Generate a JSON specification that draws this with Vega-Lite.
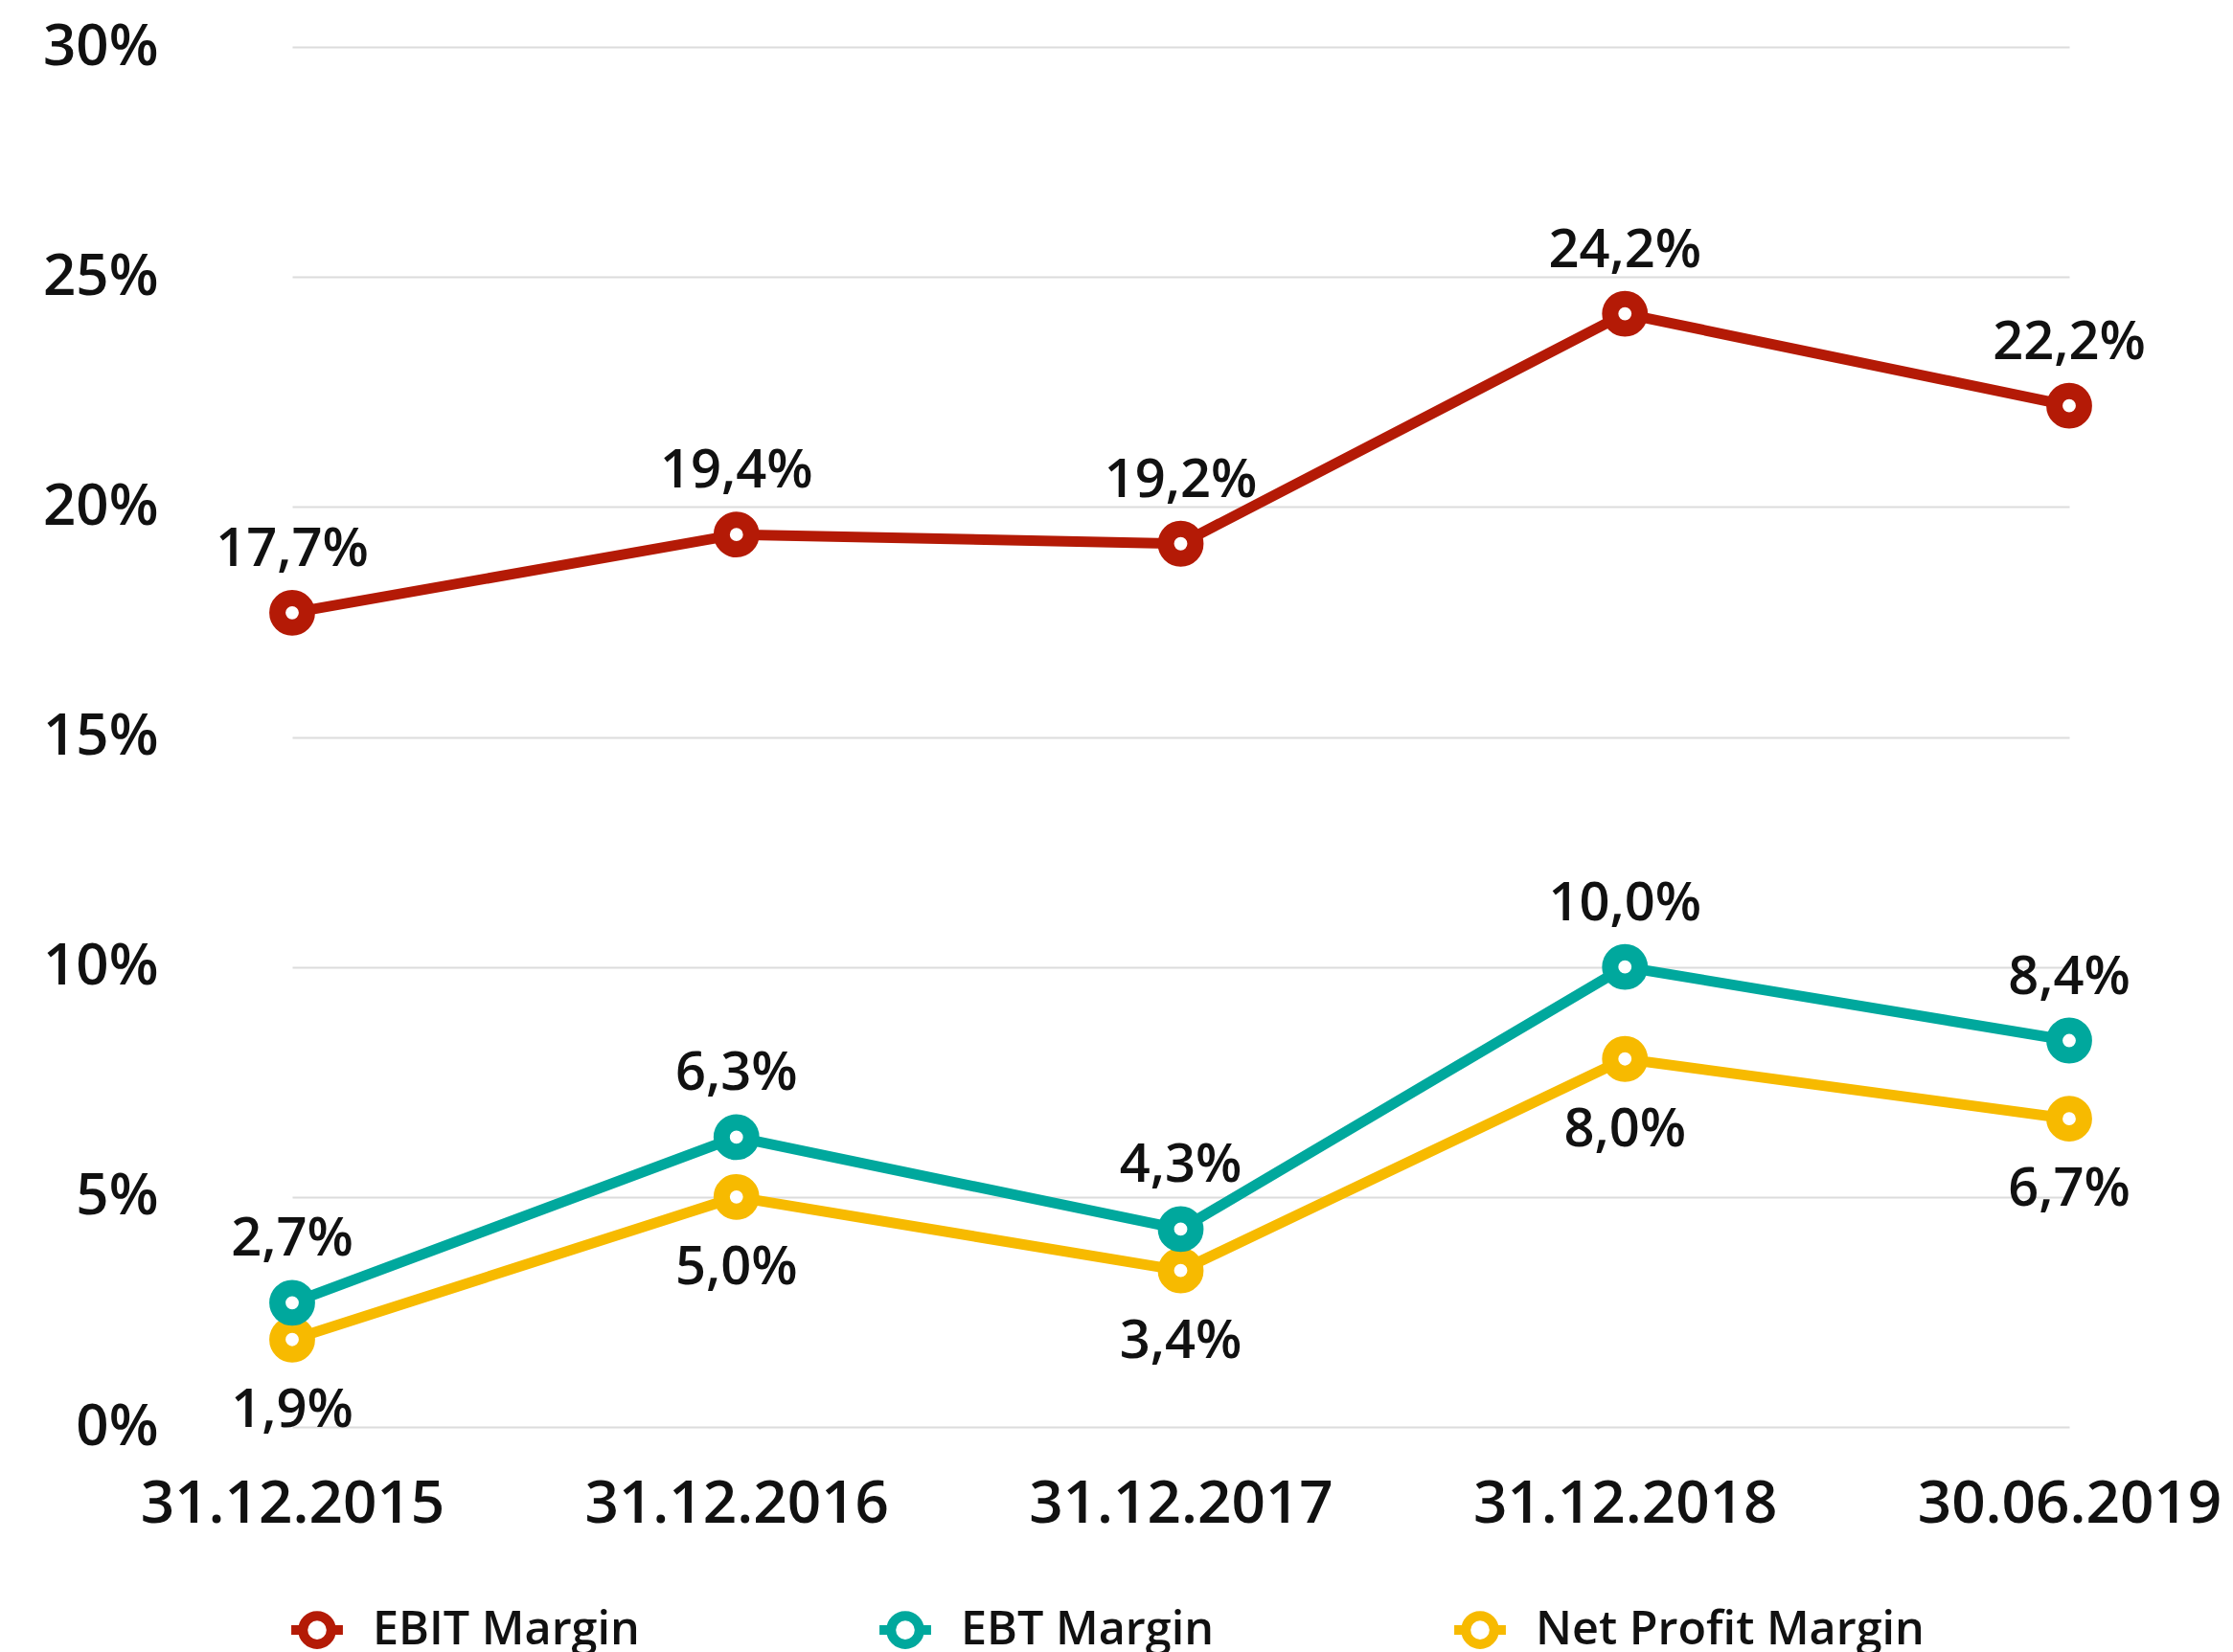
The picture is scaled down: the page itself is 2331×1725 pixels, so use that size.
{
  "$schema": "https://vega.github.io/schema/vega-lite/v6.json",
  "autosize": "none",
  "width": 1855,
  "height": 1441,
  "padding": {"left": 305, "top": 49, "right": 171, "bottom": 235},
  "background": "white",
  "config": {
    "locale": {"number": {"decimal": ",", "thousands": ".", "grouping": [3], "currency": ["", " €"]}},
    "view": {"stroke": null},
    "font": "Open Sans",
    "axis": {"labelFont": "Open Sans", "labelFontWeight": 600, "labelColor": "#111111"}
  },
  "data": {
    "values": [
      {"date": "31.12.2015", "series": "Net Profit Margin", "value": 0.019},
      {"date": "31.12.2016", "series": "Net Profit Margin", "value": 0.050},
      {"date": "31.12.2017", "series": "Net Profit Margin", "value": 0.034},
      {"date": "31.12.2018", "series": "Net Profit Margin", "value": 0.080},
      {"date": "30.06.2019", "series": "Net Profit Margin", "value": 0.067},
      {"date": "31.12.2015", "series": "EBT Margin", "value": 0.027},
      {"date": "31.12.2016", "series": "EBT Margin", "value": 0.063},
      {"date": "31.12.2017", "series": "EBT Margin", "value": 0.043},
      {"date": "31.12.2018", "series": "EBT Margin", "value": 0.100},
      {"date": "30.06.2019", "series": "EBT Margin", "value": 0.084},
      {"date": "31.12.2015", "series": "EBIT Margin", "value": 0.177},
      {"date": "31.12.2016", "series": "EBIT Margin", "value": 0.194},
      {"date": "31.12.2017", "series": "EBIT Margin", "value": 0.192},
      {"date": "31.12.2018", "series": "EBIT Margin", "value": 0.242},
      {"date": "30.06.2019", "series": "EBIT Margin", "value": 0.222}
    ]
  },
  "encoding": {
    "x": {
      "field": "date", "type": "ordinal", "sort": null,
      "scale": {"type": "point", "padding": 0},
      "axis": {"title": null, "domain": false, "ticks": false, "grid": false, "labelAngle": 0,
               "labelFontSize": 62, "labelPadding": 80, "labelBaseline": "middle", "labelLimit": 0}
    },
    "y": {
      "field": "value", "type": "quantitative",
      "scale": {"domain": [0, 0.3], "nice": false, "zero": true},
      "axis": {"title": null, "domain": false, "ticks": false, "format": ".0%",
               "values": [0, 0.05, 0.1, 0.15, 0.2, 0.25, 0.3],
               "labelFontSize": 60, "labelPadding": 140, "gridColor": "#dcdcdc", "gridWidth": 2}
    }
  },
  "layer": [
    {
      "mark": {"type": "line", "strokeWidth": 11, "strokeJoin": "round"},
      "encoding": {
        "color": {
          "field": "series", "type": "nominal",
          "scale": {"domain": ["EBIT Margin", "EBT Margin", "Net Profit Margin"], "range": ["#b41a06", "#00a89d", "#f7ba00"]},
          "legend": {
            "title": null, "orient": "none", "direction": "horizontal",
            "legendX": -6, "legendY": 1621, "padding": 0,
            "symbolType": "M-1,0L-0.55,0M0.55,0L1,0M-0.55,0A0.55,0.55,0,1,1,0.55,0A0.55,0.55,0,1,1,-0.55,0Z",
            "symbolSize": 2900, "symbolStrokeWidth": 10, "symbolFillColor": "white",
            "labelFont": "Open Sans", "labelFontWeight": 600, "labelFontSize": 48.5, "labelColor": "#111111",
            "labelOffset": 26, "columnPadding": 230, "labelLimit": 600,
            "encode": {"symbols": {"update": {"fill": {"value": "white"}, "strokeWidth": {"value": 10}, "opacity": {"value": 1}}}}
          }
        }
      }
    },
    {
      "mark": {"type": "point", "filled": true, "fill": "white", "size": 950, "strokeWidth": 17, "opacity": 1},
      "encoding": {
        "stroke": {
          "field": "series", "type": "nominal",
          "scale": {"domain": ["EBIT Margin", "EBT Margin", "Net Profit Margin"], "range": ["#b41a06", "#00a89d", "#f7ba00"]},
          "legend": null
        }
      }
    },
    {
      "transform": [{"filter": "datum.series !== 'Net Profit Margin'"}],
      "mark": {"type": "text", "dy": -66, "baseline": "middle", "align": "center", "font": "Open Sans", "fontWeight": 600, "fontSize": 56, "color": "#111111"},
      "encoding": {"text": {"field": "value", "type": "quantitative", "format": ".1%"}}
    },
    {
      "transform": [{"filter": "datum.series === 'Net Profit Margin'"}],
      "mark": {"type": "text", "dy": 74, "baseline": "middle", "align": "center", "font": "Open Sans", "fontWeight": 600, "fontSize": 56, "color": "#111111"},
      "encoding": {"text": {"field": "value", "type": "quantitative", "format": ".1%"}}
    }
  ]
}
